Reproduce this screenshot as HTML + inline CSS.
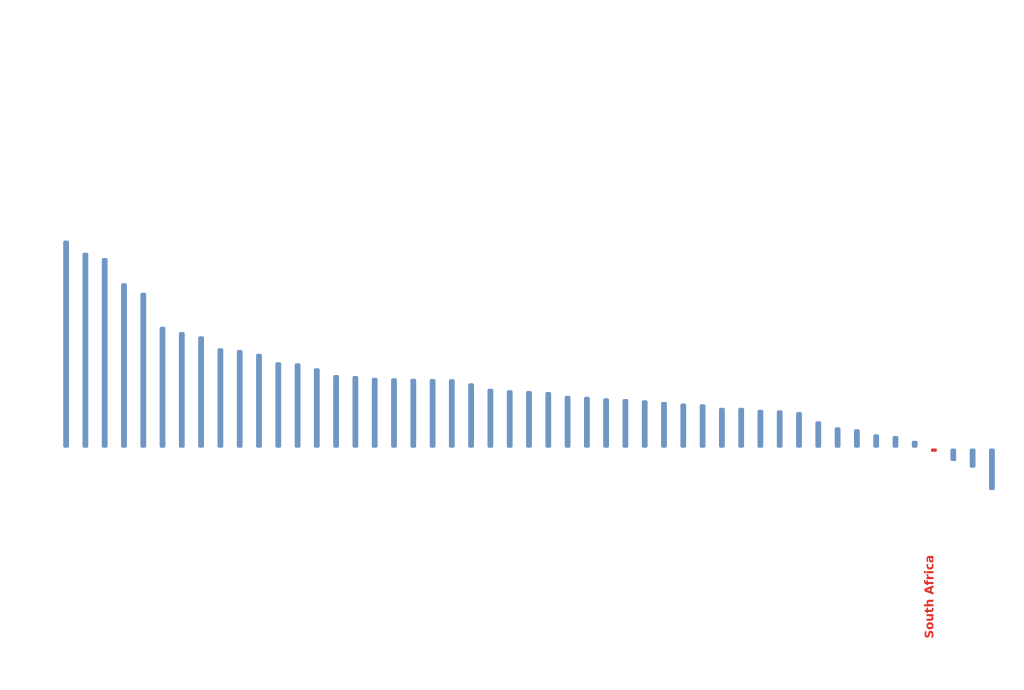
<!DOCTYPE html>
<html><head><meta charset="utf-8"><style>
html,body{margin:0;padding:0;background:#fff;}
svg{display:block;}
</style></head><body>
<svg width="1024" height="690" viewBox="0 0 1024 690" xmlns="http://www.w3.org/2000/svg">
<g fill="#7096c3">
<rect x="63.2" y="240.5" width="5.8" height="207.3" rx="1.8"/>
<rect x="82.5" y="252.7" width="5.8" height="195.1" rx="1.8"/>
<rect x="101.8" y="258" width="5.8" height="189.8" rx="1.8"/>
<rect x="121.1" y="283.3" width="5.8" height="164.5" rx="1.8"/>
<rect x="140.4" y="292.7" width="5.8" height="155.1" rx="1.8"/>
<rect x="159.6" y="326.7" width="5.8" height="121.1" rx="1.8"/>
<rect x="178.9" y="332" width="5.8" height="115.8" rx="1.8"/>
<rect x="198.2" y="336.3" width="5.8" height="111.5" rx="1.8"/>
<rect x="217.5" y="348.3" width="5.8" height="99.5" rx="1.8"/>
<rect x="236.8" y="350" width="5.8" height="97.8" rx="1.8"/>
<rect x="256.1" y="353.7" width="5.8" height="94.1" rx="1.8"/>
<rect x="275.4" y="362.3" width="5.8" height="85.5" rx="1.8"/>
<rect x="294.7" y="363.3" width="5.8" height="84.5" rx="1.8"/>
<rect x="313.9" y="368.3" width="5.8" height="79.5" rx="1.8"/>
<rect x="333.2" y="375" width="5.8" height="72.8" rx="1.8"/>
<rect x="352.5" y="376" width="5.8" height="71.8" rx="1.8"/>
<rect x="371.8" y="377.7" width="5.8" height="70.1" rx="1.8"/>
<rect x="391.1" y="378.3" width="5.8" height="69.5" rx="1.8"/>
<rect x="410.4" y="378.7" width="5.8" height="69.1" rx="1.8"/>
<rect x="429.7" y="379" width="5.8" height="68.8" rx="1.8"/>
<rect x="448.9" y="379.3" width="5.8" height="68.5" rx="1.8"/>
<rect x="468.2" y="383.3" width="5.8" height="64.5" rx="1.8"/>
<rect x="487.5" y="388.7" width="5.8" height="59.1" rx="1.8"/>
<rect x="506.8" y="390.3" width="5.8" height="57.5" rx="1.8"/>
<rect x="526.1" y="391" width="5.8" height="56.8" rx="1.8"/>
<rect x="545.4" y="392" width="5.8" height="55.8" rx="1.8"/>
<rect x="564.7" y="395.7" width="5.8" height="52.1" rx="1.8"/>
<rect x="584" y="396.7" width="5.8" height="51.1" rx="1.8"/>
<rect x="603.2" y="398.3" width="5.8" height="49.5" rx="1.8"/>
<rect x="622.5" y="399" width="5.8" height="48.8" rx="1.8"/>
<rect x="641.8" y="400.3" width="5.8" height="47.5" rx="1.8"/>
<rect x="661.1" y="402" width="5.8" height="45.8" rx="1.8"/>
<rect x="680.4" y="403.5" width="5.8" height="44.3" rx="1.8"/>
<rect x="699.7" y="404.3" width="5.8" height="43.5" rx="1.8"/>
<rect x="719" y="407.7" width="5.8" height="40.1" rx="1.8"/>
<rect x="738.3" y="407.7" width="5.8" height="40.1" rx="1.8"/>
<rect x="757.5" y="409.7" width="5.8" height="38.1" rx="1.8"/>
<rect x="776.8" y="410.3" width="5.8" height="37.5" rx="1.8"/>
<rect x="796.1" y="412" width="5.8" height="35.8" rx="1.8"/>
<rect x="815.4" y="421.3" width="5.8" height="26.5" rx="1.8"/>
<rect x="834.7" y="427.3" width="5.8" height="20.5" rx="1.8"/>
<rect x="854" y="429.3" width="5.8" height="18.5" rx="1.8"/>
<rect x="873.3" y="434.3" width="5.8" height="13.5" rx="1.8"/>
<rect x="892.6" y="436" width="5.8" height="11.8" rx="1.8"/>
<rect x="911.8" y="440.7" width="5.8" height="7.1" rx="1.8"/>
<rect x="950.4" y="448.5" width="5.8" height="12.5" rx="1.8"/>
<rect x="969.7" y="448.5" width="5.8" height="19.3" rx="1.8"/>
<rect x="989" y="448.5" width="5.8" height="41.5" rx="1.8"/>
</g>
<rect x="931" y="448.5" width="5.8" height="3.2" rx="1" fill="#e3342a"/>
<text transform="translate(933.5,638.5) rotate(-90)" font-family="DejaVu Sans, sans-serif" font-weight="bold" font-size="12" fill="#e3342a">South Africa</text>
</svg>
</body></html>
